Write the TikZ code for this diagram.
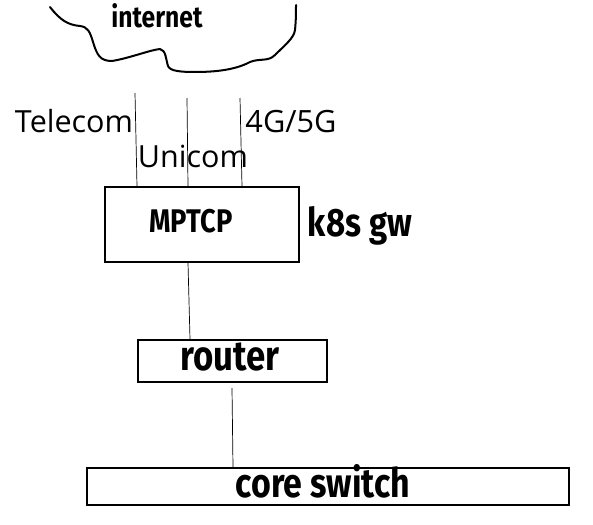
\documentclass[tikz,border=0pt]{standalone}
\usepackage{fontspec}
\setmainfont{Open Sans}
\newfontfamily\handfont{Fira Sans}
\newcommand\handtext[2]{\scalebox{1}[1.2]{\resizebox{#1pt}{!}{\handfont\bfseries #2}}}
\newcommand\plaintext[2]{\resizebox{#1pt}{!}{#2}}
\begin{document}
\begin{tikzpicture}[x=1pt,y=-1pt,
  boxstyle/.style={draw=black,line width=1.5pt,inner sep=0pt},
  link/.style={draw=black,line width=0.7pt},
  lbl/.style={inner sep=0pt,anchor=base}]
\useasboundingbox (0,0) rectangle (593,524);
% cloud
\draw[line width=2pt,line cap=round,line join=round] (50,7) .. controls (60,20) and (68,25) .. (80,26)
  .. controls (88,27) and (90,32) .. (93,42)
  .. controls (97,55) and (100,61) .. (112,61)
  .. controls (130,58) and (150,50) .. (160,49)
  .. controls (166,50) and (166,60) .. (168,66)
  .. controls (170,71) and (180,72) .. (195,72)
  .. controls (215,72) and (235,70) .. (250,62)
  .. controls (260,58) and (268,62) .. (275,55)
  .. controls (285,45) and (294,38) .. (295,30)
  .. controls (296,20) and (296,12) .. (296,5);
\node[lbl] (inet) at (157,28) {\handtext{91}{internet}};
% boxes
\node[boxstyle,minimum width=194pt,minimum height=75pt] (mptcp) at (202,224.5) {};
\node[lbl] (mptcpt) at (191,232) {\handtext{83}{MPTCP}};
\node[lbl] (k8s) at (360,236) {\handtext{104}{k8s gw}};
\node[boxstyle,minimum width=189pt,minimum height=42pt] (router) at (232.5,361) {};
\node[lbl] (routert) at (230,370) {\handtext{99}{router}};
\node[boxstyle,minimum width=482pt,minimum height=37pt] (core) at (328,486.5) {};
\node[lbl] (coret) at (323,497) {\handtext{174}{core switch}};
% uplinks
\coordinate (c1) at (135,93);
\coordinate (c2) at (187,98);
\coordinate (c3) at (240,98);
\draw[link] (c1) -- (mptcp.north -| 137,0);
\draw[link] (c2) -- (mptcp.north -| 188,0);
\draw[link] (c3) -- (mptcp.north -| 242,0);
\node[lbl] (tel) at (74,132) {\plaintext{118}{Telecom}};
\node[lbl] (uni) at (193,167) {\plaintext{110}{Unicom}};
\node[lbl] (g45) at (291,132) {\plaintext{91}{4G/5G}};
% links
\draw[link] (mptcp.south -| 188,0) -- (router.north -| 190,0);
\coordinate (r2) at (232,388);
\draw[link] (r2) -- (core.north -| 233,0);
\end{tikzpicture}
\end{document}
